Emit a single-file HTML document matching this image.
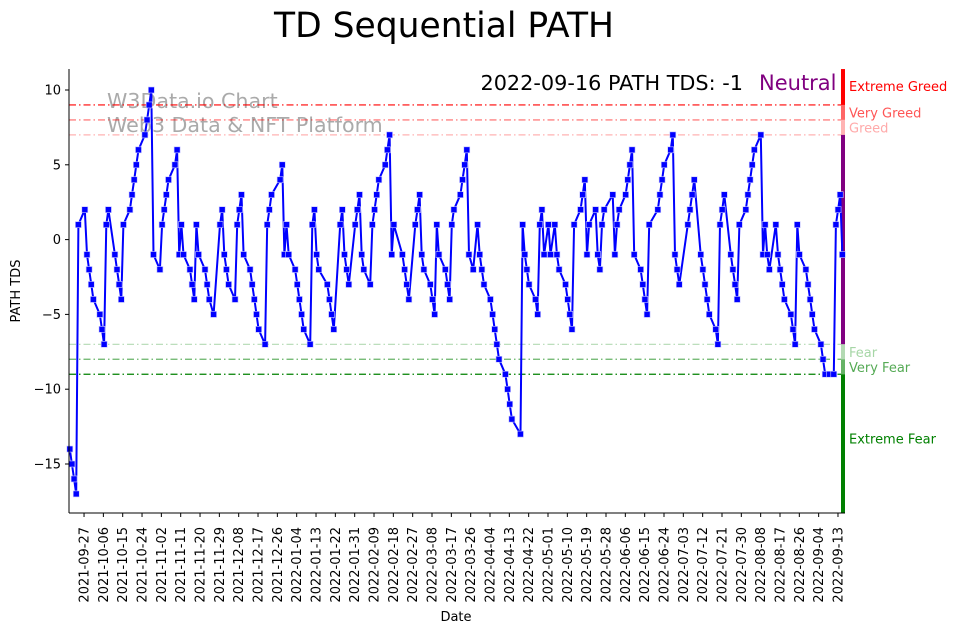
<!DOCTYPE html>
<html><head><meta charset="utf-8">
<style>
html,body{margin:0;padding:0;background:#fff;}
svg{display:block;font-family:"DejaVu Sans","Liberation Sans",sans-serif;}
</style></head>
<body>
<svg id="chart" width="962" height="633" viewBox="0 0 962 633" xmlns="http://www.w3.org/2000/svg">
  <text x="444" y="37" font-size="34.5" text-anchor="middle" fill="#000">TD Sequential PATH</text>
  <text x="107" y="108" font-size="20.6" fill="#aaa">W3Data.io Chart</text>
  <text x="107" y="132" font-size="20.6" fill="#aaa">Web3 Data &amp; NFT Platform</text>
  <text x="743" y="90" font-size="20.8" text-anchor="end" fill="#000">2022-09-16 PATH TDS: -1</text>
  <text x="759" y="90" font-size="21" fill="#800080">Neutral</text>
  <text transform="translate(20,291) rotate(-90)" font-size="13" text-anchor="middle">PATH TDS</text>
  <text x="456" y="621" font-size="13" text-anchor="middle">Date</text>
  <g id="grid"></g>
  <g id="series"></g>
  <g id="axes"></g>
</svg>
<script>
// data: day offsets from 2021-09-20 and TDS values
const days = [0,1,2,3,4,7,8,9,10,11,14,15,16,17,18,21,22,23,24,25,28,29,30,31,32,35,36,37,38,39,42,43,44,45,46,49,50,51,52,53,56,57,58,59,60,63,64,65,67,70,71,72,73,74,77,78,79,80,81,84,85,86,87,88,91,92,93,94,98,99,100,101,102,105,106,107,108,109,112,113,114,115,116,120,121,122,123,126,127,128,129,130,133,134,135,136,137,140,141,142,143,144,147,148,149,150,151,155,156,157,158,161,162,163,164,165,168,169,170,171,172,175,176,177,178,179,182,183,184,185,186,188,190,191,192,193,196,197,198,199,200,203,204,205,206,210,211,212,213,214,217,218,219,220,221,223,224,226,227,228,231,232,233,234,235,238,239,240,241,242,245,246,247,248,249,253,254,255,256,259,260,261,262,263,266,267,268,269,270,274,275,276,277,280,281,282,283,284,288,289,290,291,294,295,296,297,298,301,302,303,304,305,308,309,310,311,312,315,316,317,318,319,322,323,324,325,326,329,330,331,332,333,336,337,338,339,340,343,344,345,346,347,350,351,352,354,356,357,358,359,360];
const values = [-14,-15,-16,-17,1,2,-1,-2,-3,-4,-5,-6,-7,1,2,-1,-2,-3,-4,1,2,3,4,5,6,7,8,9,10,-1,-2,1,2,3,4,5,6,-1,1,-1,-2,-3,-4,1,-1,-2,-3,-4,-5,1,2,-1,-2,-3,-4,1,2,3,-1,-2,-3,-4,-5,-6,-7,1,2,3,4,5,-1,1,-1,-2,-3,-4,-5,-6,-7,1,2,-1,-2,-3,-4,-5,-6,1,2,-1,-2,-3,1,2,3,-1,-2,-3,1,2,3,4,5,6,7,-1,1,-1,-2,-3,-4,1,2,3,-1,-2,-3,-4,-5,1,-1,-2,-3,-4,1,2,3,4,5,6,-1,-2,1,-1,-2,-3,-4,-5,-6,-7,-8,-9,-10,-11,-12,-13,1,-1,-2,-3,-4,-5,1,2,-1,1,-1,1,-1,-2,-3,-4,-5,-6,1,2,3,4,-1,1,2,-1,-2,1,2,3,-1,1,2,3,4,5,6,-1,-2,-3,-4,-5,1,2,3,4,5,6,7,-1,-2,-3,1,2,3,4,-1,-2,-3,-4,-5,-6,-7,1,2,3,-1,-2,-3,-4,1,2,3,4,5,6,7,-1,1,-1,-2,1,-1,-2,-3,-4,-5,-6,-7,1,-1,-2,-3,-4,-5,-6,-7,-8,-9,-9,-9,1,2,3,-1];
const yTicks = [10,5,0,-5,-10,-15];
const levelValues = [9,8,7,-7,-8,-9];
const levelNames = ["Extreme Greed","Very Greed","Greed","Fear","Very Fear","Extreme Fear"];
const xTickStart = 7, xTickStep = 9, xTickCount = 40;

const NS="http://www.w3.org/2000/svg";
const X0=69.8, PXD=2.146, plotL=69, plotR=845, plotT=69, plotB=513;
const xs=d=>X0+d*PXD;
const ys=v=>90+(10-v)*14.96;
function el(tag,attrs,parent){const e=document.createElementNS(NS,tag);for(const k in attrs)e.setAttribute(k,attrs[k]);parent.appendChild(e);return e;}
const grid=document.getElementById('grid'), series=document.getElementById('series'), axes=document.getElementById('axes');

const lineCols=["rgba(255,0,0,1)","rgba(255,0,0,0.6)","rgba(255,0,0,0.3)","rgba(0,128,0,0.3)","rgba(0,128,0,0.6)","rgba(0,128,0,1)"];
levelValues.forEach((v,i)=>{
  const l=el('line',{x1:plotL,x2:841,y1:ys(v),y2:ys(v),stroke:lineCols[i],'stroke-width':1.2,'stroke-dasharray':'7 3 1.5 3'},grid);
  
  
});
const zones=[[11.4,9,"#ff0000"],[9,8,"#ff6666"],[8,7,"#ffb3b3"],[7,-7,"#800080"],[-7,-8,"#b3d9b3"],[-8,-9,"#66b366"],[-9,-18.3,"#008000"]];
zones.forEach((z,i)=>{
  const r=el('rect',{x:841,y:ys(z[0]),width:4,height:ys(z[1])-ys(z[0]),fill:z[2]},grid);
  
  
});
const labY=[ys(11.4)+22,ys(8.5)+5,ys(7.5)+5,ys(-7.5)+5,ys(-8.5)+5,ys(-13.3)+5];
const labCols=["#ff0000","#ff5555","#ffaaaa","#a6d6a6","#55aa55","#008000"];
levelNames.forEach((n,i)=>{
  const t=el('text',{x:849,y:labY[i],'font-size':13,fill:labCols[i]},grid);
  t.textContent=n;
  
  
});

let d='';
days.forEach((dd,i)=>{d+=(i?'L':'M')+xs(dd).toFixed(1)+' '+ys(values[i]).toFixed(1);});
const path=el('path',{d:d,fill:'none',stroke:'#0000ff','stroke-width':2,'stroke-linejoin':'round'},series);


days.forEach((dd,i)=>{
  const m=el('rect',{x:xs(dd)-3,y:ys(values[i])-3,width:6,height:6,fill:'#0000ff',stroke:'#c8c8ff','stroke-width':0.6},series);
  
  
});

const sp1=el('line',{x1:plotL,x2:plotL,y1:plotT,y2:plotB,stroke:'#000','stroke-width':1},axes);


const sp2=el('line',{x1:plotL,x2:plotR,y1:plotB,y2:plotB,stroke:'#000','stroke-width':1},axes);


yTicks.forEach(v=>{
  el('line',{x1:plotL-4,x2:plotL,y1:ys(v),y2:ys(v),stroke:'#000'},axes);
  const t=el('text',{x:plotL-8,y:ys(v)+4.5,'font-size':13,'text-anchor':'end'},axes);
  t.textContent=v<0?'\u2212'+(-v):String(v);
  
  
});
const base=Date.UTC(2021,8,20);
for(let k=0;k<xTickCount;k++){
  const dd=xTickStart+k*xTickStep, x=69+dd*2.148;
  el('line',{x1:x,x2:x,y1:plotB,y2:plotB+4,stroke:'#000'},axes);
  const dt=new Date(base+dd*86400000);
  const s=dt.getUTCFullYear()+'-'+String(dt.getUTCMonth()+1).padStart(2,'0')+'-'+String(dt.getUTCDate()).padStart(2,'0');
  const t=el('text',{transform:`translate(${x+4.5},${plotB+14}) rotate(-90)`,'font-size':13,'text-anchor':'end'},axes);
  t.textContent=s;
  
  
}
</script>
</body></html>
